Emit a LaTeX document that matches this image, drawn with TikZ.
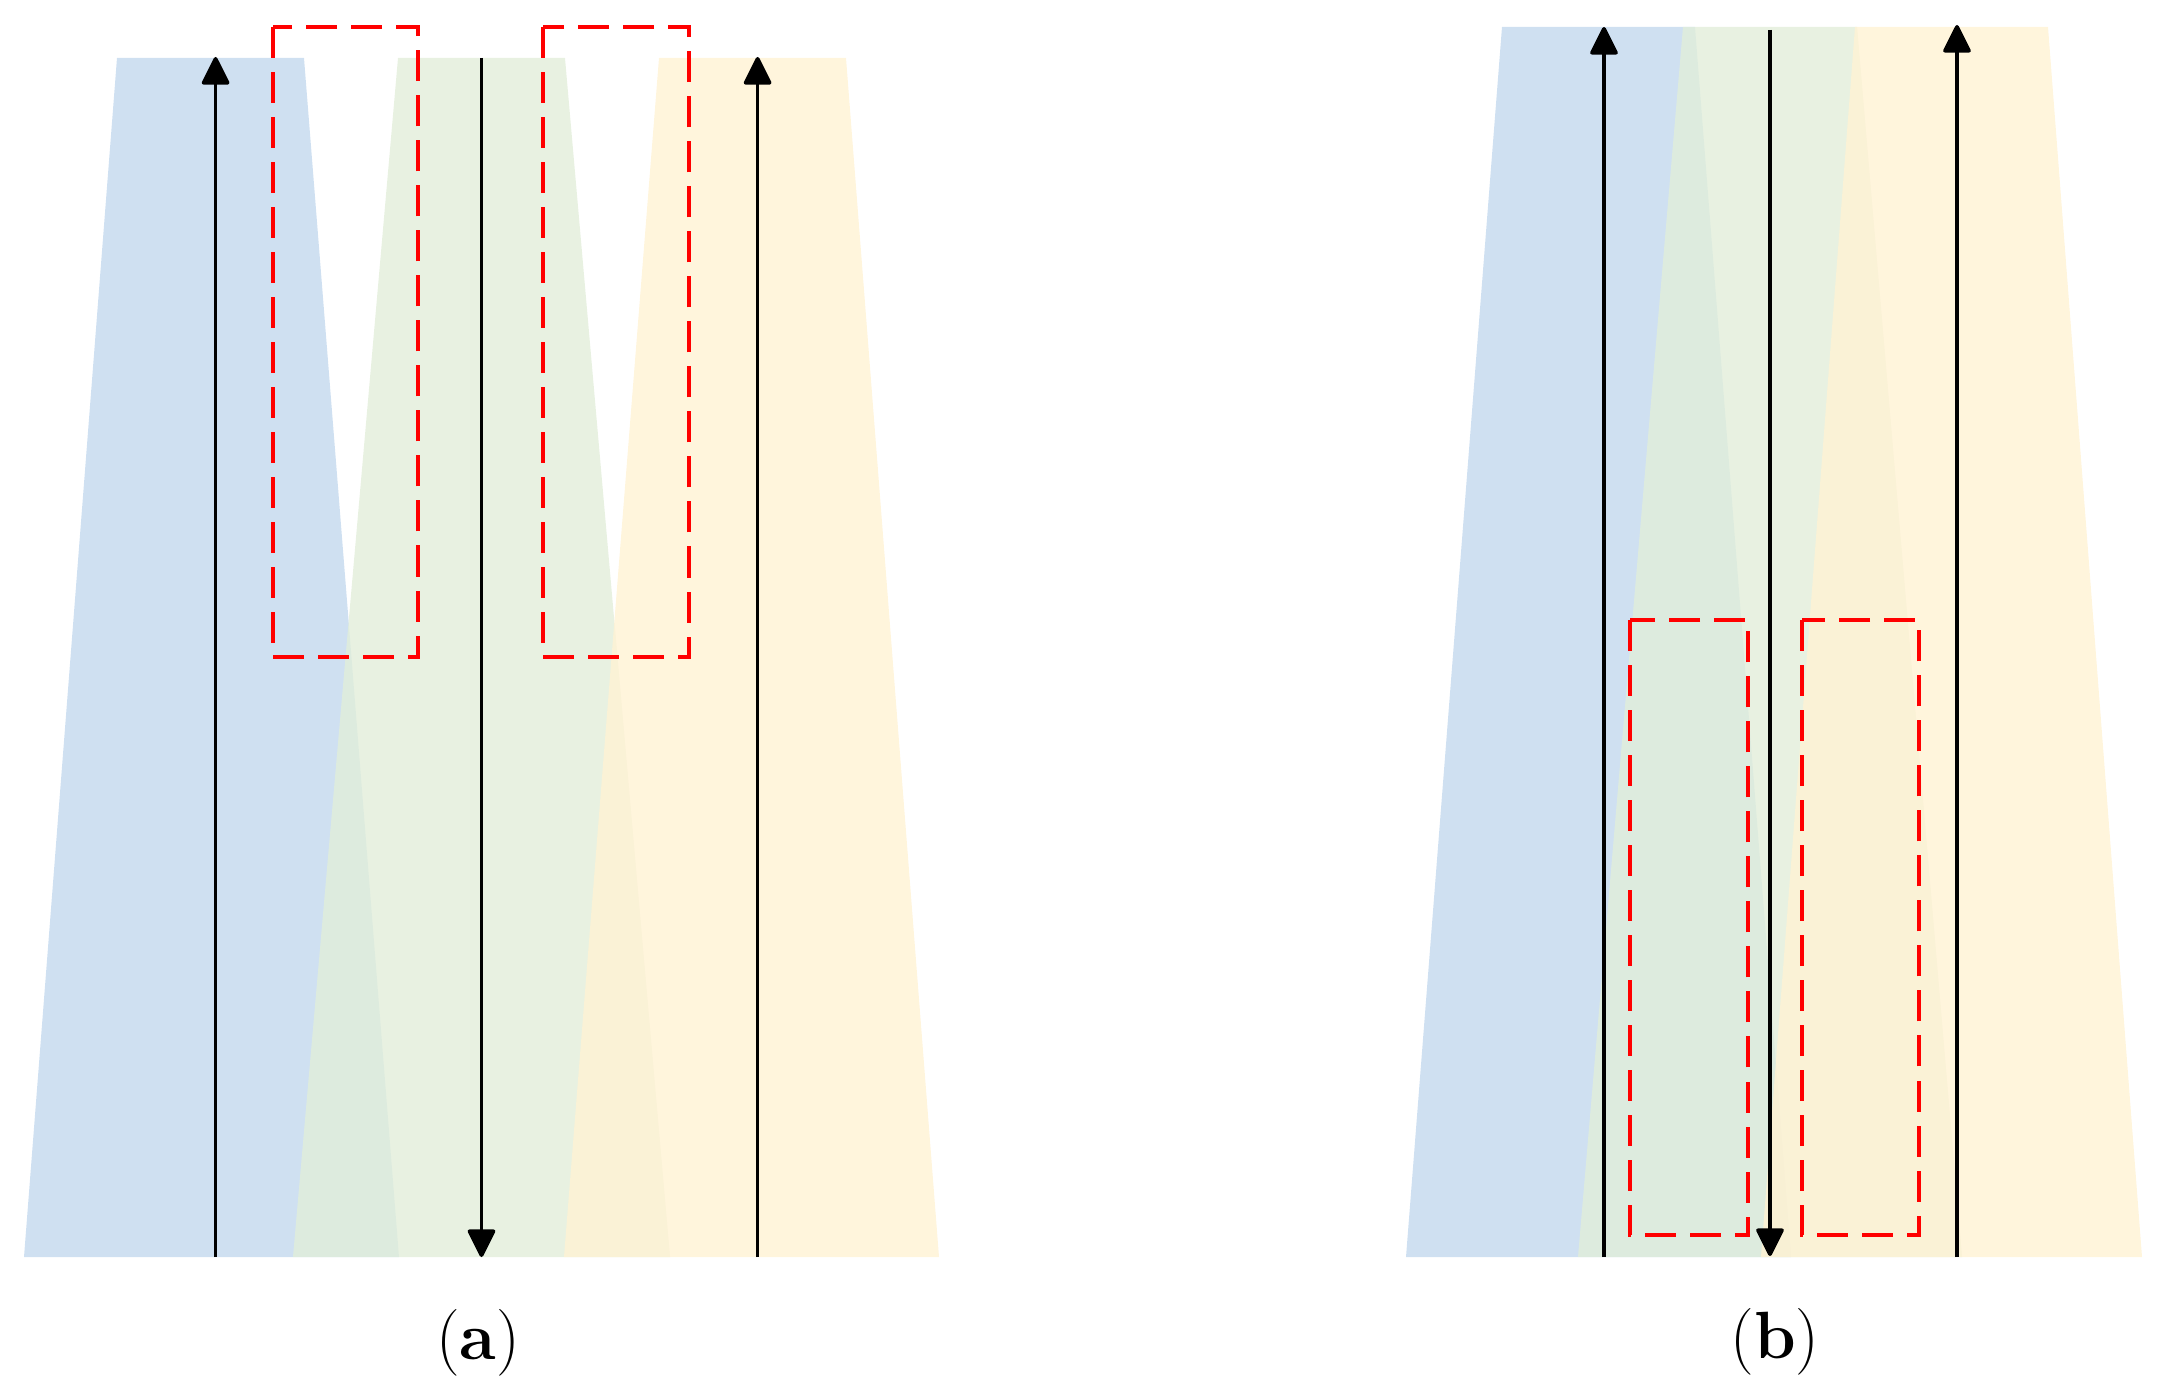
\documentclass[tikz,border=0pt]{standalone}
\usetikzlibrary{arrows.meta}
\definecolor{cblue}{RGB}{195,216,238}
\definecolor{cgreen}{RGB}{226,238,218}
\definecolor{cyellow}{RGB}{255,242,211}
\begin{document}
\begin{tikzpicture}[x=0.01cm,y=-0.01cm,
  band/.style={fill opacity=0.8},
  flow/.style={line width=1.05pt, black, -{Triangle[width=0.29cm,length=0.3cm,round]}},
  redbox/.style={draw=red, line width=1.1pt, dash pattern=on 0.31cm off 0.14cm},
  lbl/.style={font=\fontsize{19}{22}\selectfont, inner sep=0pt}]
\useasboundingbox (0,0) rectangle (2166,1397);
% ---------------- panel (a)
\fill[cblue, band]   (117,58) -- (304,58) -- (399,1257) -- (24,1257) -- cycle;
\fill[cgreen, band]  (398,58) -- (565,58) -- (670,1257) -- (293,1257) -- cycle;
\fill[cyellow, band] (659,58) -- (846,58) -- (939,1257) -- (564,1257) -- cycle;
\coordinate (a1b) at (215.6,1257);
\coordinate (a1t) at (215.6,57);
\coordinate (a2t) at (481.5,58);
\coordinate (a2b) at (481.5,1257);
\coordinate (a3b) at (757.6,1257);
\coordinate (a3t) at (757.6,57);
\draw[flow] (a1b) -- (a1t);
\draw[flow] (a2t) -- (a2b);
\draw[flow] (a3b) -- (a3t);
\draw[redbox] (273,27) rectangle (418,657);
\draw[redbox] (543,27) rectangle (689,657);
\node[lbl] (la) at (478,1343) {(\textbf{a})};
% ---------------- panel (b)
\fill[cblue, band]   (1502,27) -- (1695,27) -- (1791,1257) -- (1406,1257) -- cycle;
\fill[cgreen, band]  (1683,27) -- (1857,27) -- (1962,1257) -- (1578,1257) -- cycle;
\fill[cyellow, band] (1855,27) -- (2048,27) -- (2142,1257) -- (1761,1257) -- cycle;
\coordinate (b1b) at (1604,1257);
\coordinate (b1t) at (1604,27);
\coordinate (b2t) at (1770,30);
\coordinate (b2b) at (1770,1256);
\coordinate (b3b) at (1957,1257);
\coordinate (b3t) at (1957,25);
\draw[flow] (b1b) -- (b1t);
\draw[flow] (b2t) -- (b2b);
\draw[flow] (b3b) -- (b3t);
\draw[redbox] (1630,620) rectangle (1748,1235);
\draw[redbox] (1802,620) rectangle (1919,1235);
\node[lbl] (lb) at (1775,1342) {(\textbf{b})};
\end{tikzpicture}
\end{document}
